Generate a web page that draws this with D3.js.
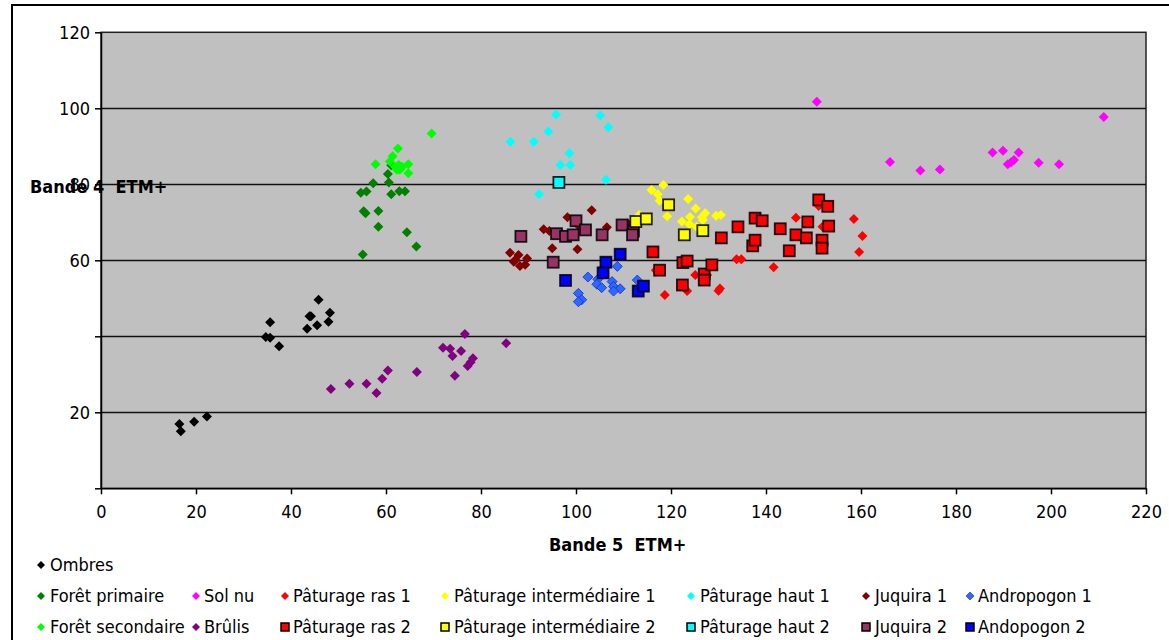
<!DOCTYPE html>
<html>
<head>
<meta charset="utf-8">
<script src="https://cdn.jsdelivr.net/npm/d3@7"></script>
<style>
body { margin:0; background:#fff; }
svg text { font-family: "DejaVu Sans Condensed", "DejaVu Sans", sans-serif; fill:#000; white-space:pre; }
</style>
</head>
<body>
<div id="chart"></div>
<script>
var width = 1169
var height = 640

// data: [Bande 5, Bande 4]
var ombres = [[16.5,16.9],[16.8,15.0],[19.6,17.5],[22.3,18.9],[34.7,39.8],[35.6,39.6],[35.6,43.7],[37.5,37.4],
	[43.4,42.0],[43.9,45.3],[44.2,45.3],[45.5,42.9],[45.8,49.6],[47.9,43.8],[48.2,46.2]]
var foretPrimaire = [[61.1,85.0],[60.4,82.7],[60.6,80.5],[57.3,80.3],[54.7,77.8],[55.9,78.1],[61.1,77.4],[62.8,78.2],
	[64.0,78.2],[55.3,72.9],[55.7,72.4],[58.4,73.0],[58.4,68.8],[64.4,67.4],[66.4,63.6],[55.1,61.5]]
var foretSecondaire = [[69.6,93.4],[62.5,89.4],[61.4,87.4],[57.8,85.3],[60.8,86.0],[62.7,85.1],[63.4,84.6],[64.7,85.3],
	[62.3,83.8],[62.9,83.8],[64.7,82.9],[61.9,84.6]]
var solNu = [[150.7,101.7],[211.1,97.7],[166.1,85.9],[172.5,83.6],[176.6,83.9],[187.7,88.4],[189.9,88.8],[193.2,88.4],
	[190.9,85.3],[191.6,85.8],[192.2,86.4],[197.4,85.7],[201.7,85.3]]
var brulis = [[48.4,26.1],[52.3,27.5],[55.9,27.5],[58.0,25.1],[59.2,28.8],[60.4,31.0],[66.5,30.6],[72.0,37.0],
	[73.5,36.7],[74.0,34.8],[74.5,29.6],[75.8,36.1],[76.6,40.6],[77.2,32.2],[77.8,33.2],[78.3,34.2],[85.3,38.2]]
var paturageRas1 = [[118.7,50.9],[116.8,57.4],[123.4,51.9],[125.1,56.1],[127.6,56.1],[130.0,52.0],[130.3,52.6],
	[133.8,60.3],[134.8,60.3],[141.6,58.2],[146.3,71.2],[151.1,74.3],[151.9,68.8],[158.5,70.9],[160.3,66.4],[159.6,62.2]]
var paturageRas2 = [[116.2,62.2],[117.6,57.4],[122.5,59.4],[123.4,59.8],[122.4,53.5],[127.0,56.4],[127.0,54.8],
	[128.6,58.8],[130.6,65.9],[134.1,68.8],[137.7,71.1],[139.2,70.4],[137.2,63.8],[137.7,65.3],[143.0,68.3],
	[144.9,62.5],[146.3,66.7],[148.5,65.9],[148.8,70.1],[151.1,75.9],[153.0,74.2],[151.8,65.3],[151.8,63.2],[153.2,69.0]]
var paturageInter1 = [[118.4,79.8],[115.9,78.5],[117.2,77.4],[117.6,75.7],[119.2,71.6],[113.3,71.9],[123.6,76.1],
	[125.2,73.6],[124.0,71.4],[122.3,70.2],[123.9,69.5],[125.4,68.8],[126.5,71.3],[127.2,72.4],[126.7,70.6],
	[129.5,71.7],[130.5,71.9]]
var paturageInter2 = [[119.5,74.6],[112.6,70.2],[114.8,70.9],[122.8,66.7],[126.7,67.8]]
var paturageHaut1 = [[95.8,98.4],[105.1,98.1],[106.8,95.0],[94.2,93.9],[86.2,91.2],[91.1,91.2],[98.6,88.2],
	[96.7,85.1],[98.8,85.1],[106.3,81.2],[92.2,77.4]]
var paturageHaut2 = [[96.4,80.5]]
var juquira1 = [[103.3,73.2],[98.2,71.3],[93.2,68.2],[94.4,67.7],[100.4,69.3],[106.5,68.7],[110.9,69.7],
	[95.0,63.2],[100.3,62.9],[86.1,62.0],[87.9,61.4],[87.2,60.1],[89.7,60.5],[88.2,58.5],[89.3,58.8],[86.9,59.6]]
var juquira2 = [[88.4,66.3],[100.0,70.4],[95.9,67.0],[97.8,66.3],[99.4,66.7],[102.0,68.0],[105.5,66.7],
	[109.7,69.3],[112.1,67.7],[111.9,66.7],[95.2,59.5]]
var andropogon1 = [[108.7,58.4],[102.5,55.6],[104.6,55.0],[104.4,53.7],[105.4,52.8],[107.6,54.4],[107.9,53.1],
	[109.3,52.5],[107.9,51.9],[112.9,54.8],[100.5,51.3],[101.2,49.6],[100.5,49.1]]
var andopogon2 = [[97.8,54.7],[106.3,59.5],[105.7,56.7],[109.3,61.6],[113.1,51.9],[114.2,53.2]]

var xTicks = [0,20,40,60,80,100,120,140,160,180,200,220]
var yTicks = [0,20,40,60,80,100,120]
var yLabels = [120,100,80,60,20]

var series = [
	{name:"Ombres", data:ombres, shape:"d", fill:"#000000", leg:[41,50,565]},
	{name:"Forêt primaire", data:foretPrimaire, shape:"d", fill:"#008000", leg:[41,50,596]},
	{name:"Forêt secondaire", data:foretSecondaire, shape:"d", fill:"#00ff00", leg:[41,50,627]},
	{name:"Sol nu", data:solNu, shape:"d", fill:"#ff00ff", leg:[196,204,596]},
	{name:"Brûlis", data:brulis, shape:"d", fill:"#800080", leg:[196,204,627]},
	{name:"Pâturage ras 1", data:paturageRas1, shape:"d", fill:"#ff0000", leg:[285,293,596]},
	{name:"Pâturage intermédiaire 1", data:paturageInter1, shape:"d", fill:"#ffff00", leg:[445,454,596]},
	{name:"Pâturage haut 1", data:paturageHaut1, shape:"d", fill:"#00ffff", leg:[691,700,596]},
	{name:"Juquira 1", data:juquira1, shape:"d", fill:"#800000", leg:[866,875,596]},
	{name:"Andropogon 1", data:andropogon1, shape:"d", fill:"#3366ff", stroke:"#0033dd", leg:[970,978,596]},
	{name:"Juquira 2", data:juquira2, shape:"s", fill:"#993366", leg:[866,875,627]},
	{name:"Andopogon 2", data:andopogon2, shape:"s", fill:"#0000ff", leg:[970,978,627]},
	{name:"Pâturage haut 2", data:paturageHaut2, shape:"s", fill:"#00ffff", leg:[691,700,627]},
	{name:"Pâturage intermédiaire 2", data:paturageInter2, shape:"s", fill:"#ffff00", leg:[445,454,627]},
	{name:"Pâturage ras 2", data:paturageRas2, shape:"s", fill:"#ff0000", leg:[285,293,627]}
]

var svg = d3.select("#chart").append("svg")
	.attr("width",width)
	.attr("height",height)

var x = d3.scaleLinear().domain([0,220]).range([101,1146])
var y = d3.scaleLinear().domain([0,120]).range([488.3,32.3])

// outer chart frame
svg.append("rect")
	.attr("x",12).attr("y",5)
	.attr("width",1180).attr("height",700)
	.style("fill","#fff").style("stroke","#000").style("stroke-width",2)

// plot area
svg.append("rect")
	.attr("x",x(0)).attr("y",y(120))
	.attr("width",x(220)-x(0)).attr("height",y(0)-y(120))
	.style("fill","#c0c0c0").style("stroke","#222").style("stroke-width",1.5)

svg.append("g").selectAll("line")
	.data([20,40,60,80,100])
	.enter().append("line")
	.attr("x1",x(0)).attr("x2",x(220))
	.attr("y1",function(d){ return Math.round(y(d))+0.5 })
	.attr("y2",function(d){ return Math.round(y(d))+0.5 })
	.style("stroke","#111").style("stroke-width",1.3)

var xAxis = d3.axisBottom(x).tickValues(xTicks).tickSize(6).tickSizeOuter(0).tickPadding(8)
var yAxis = d3.axisLeft(y).tickValues(yTicks).tickSize(6).tickSizeOuter(0).tickPadding(5)
	.tickFormat(function(d){ return yLabels.indexOf(d)>-1 ? d : "" })

var gx = svg.append("g").attr("transform","translate(0,"+y(0)+")").call(xAxis)
var gy = svg.append("g").attr("transform","translate("+x(0)+",0)").call(yAxis)
;[gx,gy].forEach(function(g){
	g.selectAll("path,line").style("stroke","#000").style("stroke-width",1.5)
	g.selectAll("text").style("font-size","18px").style("font-family",null)
})
gx.selectAll("text").attr("dy","0.85em")

function marker(sel,shape){
	if(shape=="d"){
		sel.append("path").attr("d","M0,-5L5,0L0,5L-5,0Z")
	}else{
		sel.append("rect").attr("x",-5.5).attr("y",-5.5).attr("width",11).attr("height",11)
	}
}

series.forEach(function(s){
	var g = svg.append("g")
	var pts = g.selectAll("g").data(s.data).enter().append("g")
		.attr("transform",function(d){ return "translate("+x(d[0])+","+y(d[1])+")" })
	marker(pts,s.shape)
	pts.selectAll("path,rect")
		.style("fill",s.fill)
		.style("stroke",s.shape=="s" ? "#000" : (s.stroke||"none"))
		.style("stroke-width",s.shape=="s" ? 1.8 : 0.8)
		.style("stroke-opacity",s.shape=="s" ? 0.85 : 1)
})

// axis titles
svg.append("text")
	.attr("x",30).attr("y",193)
	.style("font-size","18px").style("font-weight","bold")
	.text("Bande 4  ETM+")
svg.append("text")
	.attr("x",549).attr("y",551)
	.style("font-size","18px").style("font-weight","bold")
	.text("Bande 5  ETM+")

// legend
series.forEach(function(s){
	var lg = svg.append("g").attr("transform","translate("+s.leg[0]+","+s.leg[2]+")")
	if(s.shape=="d"){
		lg.append("path").attr("d","M0,-4L4,0L0,4L-4,0Z").style("fill",s.fill)
			.style("stroke",s.stroke||"none").style("stroke-width",0.6)
	}else{
		lg.append("rect").attr("x",-4).attr("y",-4).attr("width",8).attr("height",8)
			.style("fill",s.fill).style("stroke","#000").style("stroke-width",1.5)
	}
	svg.append("text")
		.attr("x",s.leg[1]).attr("y",s.leg[2]+6)
		.style("font-size","18px")
		.text(s.name)
})
</script>
</body>
</html>
